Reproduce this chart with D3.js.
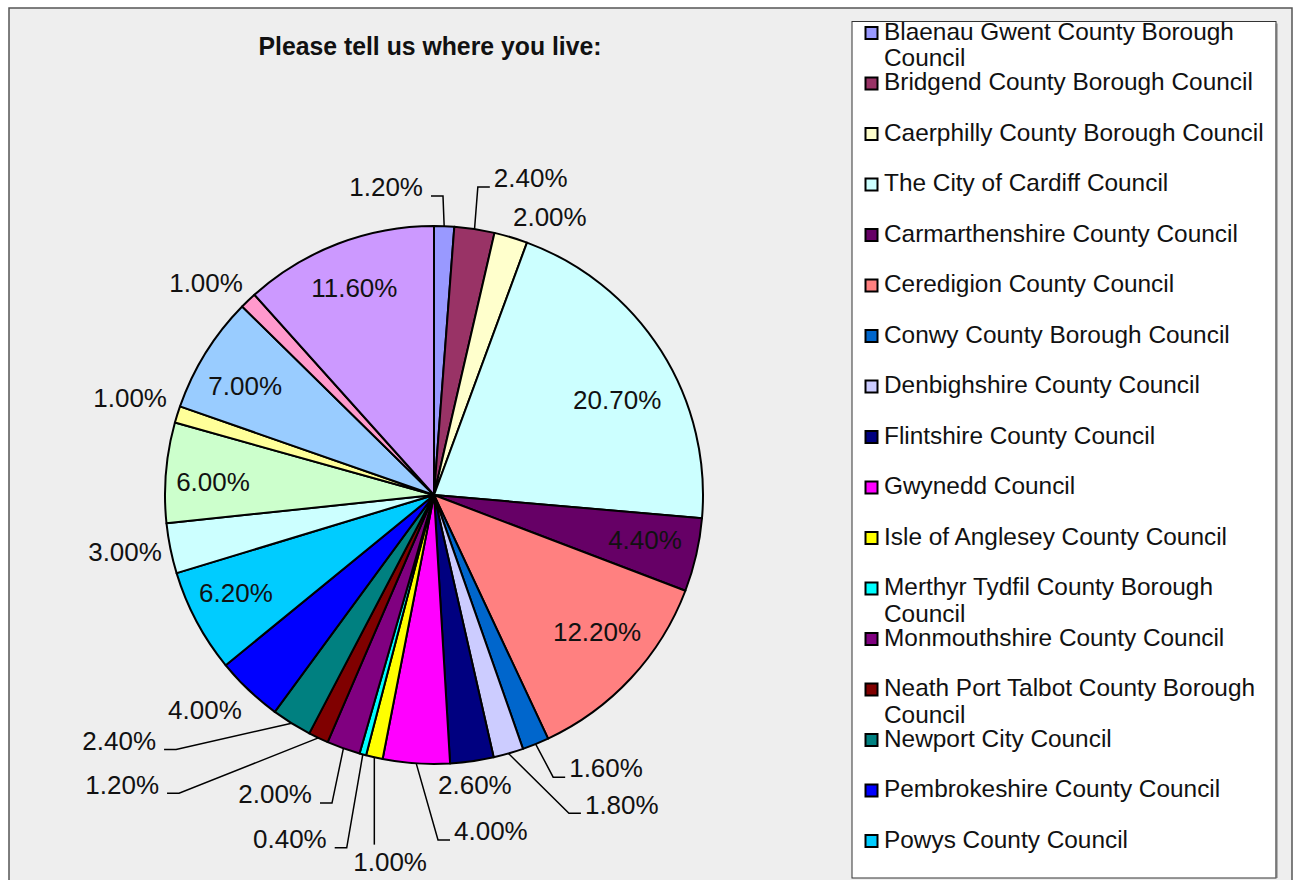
<!DOCTYPE html>
<html>
<head>
<meta charset="utf-8">
<script src="https://cdn.jsdelivr.net/npm/d3@7"></script>
<style>
  body { margin: 0; background: #fff; }
  text { font-family: "Liberation Sans", Arial, sans-serif; fill: #111; }
</style>
</head>
<body>
<div id="chart"></div>
<script>
'use strict';

const title = 'Please tell us where you live:';

const categories = [
  'Blaenau Gwent County Borough Council',
  'Bridgend County Borough Council',
  'Caerphilly County Borough Council',
  'The City of Cardiff Council',
  'Carmarthenshire County Council',
  'Ceredigion County Council',
  'Conwy County Borough Council',
  'Denbighshire County Council',
  'Flintshire County Council',
  'Gwynedd Council',
  'Isle of Anglesey County Council',
  'Merthyr Tydfil County Borough Council',
  'Monmouthshire County Council',
  'Neath Port Talbot County Borough Council',
  'Newport City Council',
  'Pembrokeshire County Council',
  'Powys County Council',
  'Rhondda Cynon Taf County Borough Council',
  'City and County of Swansea',
  'Torfaen County Borough Council',
  'Vale of Glamorgan Council',
  'Wrexham County Borough Council',
  'Outside Wales'
];

// percent of respondents
const shares = [1.2, 2.4, 2.0, 20.7, 4.4, 12.2, 1.6, 1.8, 2.6, 4.0, 1.0, 0.4,
  2.0, 1.2, 2.4, 4.0, 6.2, 3.0, 6.0, 1.0, 7.0, 1.0, 11.6];

const colours = ['#9999ff', '#993366', '#ffffcc', '#ccffff', '#660066', '#ff8080',
  '#0066cc', '#ccccff', '#000080', '#ff00ff', '#ffff00', '#00ffff', '#800080',
  '#800000', '#008080', '#0000ff', '#00ccff', '#ccffff', '#ccffcc', '#ffff99',
  '#99ccff', '#ff99cc', '#cc99ff'];

// label placement: distance from centre (x radius) and turn from slice middle (degrees)
const labelDist = [1.159, 1.232, 1.12, 0.767, 0.802, 0.791, 1.2, 1.345, 1.089, 1.267,
  1.374, 1.386, 1.259, 1.581, 1.484, 1.168, 0.821, 1.168, 0.823, 1.186, 0.811, 1.157, 0.825];
const labelTurn = [-11.0, 8.3, 6.0, 5.0, -0.9, -2.9, -10.0, -15.2, 0.1, -13.4,
  -6.0, 7.4, 8.3, 21.7, 20.1, 3.3, 1.8, 1.0, -1.3, 0.3, -1.8, -3.4, -0.1];
const labelLeader = [1, 1, 0, 0, 0, 0, 1, 1, 0, 1, 1, 1, 1, 1, 1, 0, 0, 0, 0, 0, 0, 0, 0];

const width = 1298, height = 880;
const cx = 434, cy = 495, radius = 269;
const fontSize = 26;

const svg = d3.select('#chart').append('svg')
  .attr('width', width)
  .attr('height', height);

// chart area
svg.append('rect')
  .attr('x', 9).attr('y', 8)
  .attr('width', 1283).attr('height', 900)
  .attr('fill', '#eeeeee')
  .attr('stroke', '#555')
  .attr('stroke-width', 1.5);

svg.append('text')
  .attr('x', 430).attr('y', 55)
  .attr('text-anchor', 'middle')
  .attr('font-size', 26)
  .attr('font-weight', 'bold')
  .attr('textLength', 343)
  .attr('lengthAdjust', 'spacingAndGlyphs')
  .text(title);

const pie = d3.pie().sort(null).value((d) => d);
const arcs = pie(shares);
const arc = d3.arc().innerRadius(0).outerRadius(radius);

const g = svg.append('g').attr('transform', 'translate(' + cx + ',' + cy + ')');

g.selectAll('path.slice').data(arcs).enter()
  .append('path')
  .attr('class', 'slice')
  .attr('d', arc)
  .attr('fill', (d, i) => colours[i])
  .attr('stroke', '#000')
  .attr('stroke-width', 2)
  .attr('stroke-linejoin', 'round');

function polar(r, a) {
  return [r * Math.sin(a), -r * Math.cos(a)];
}

const fmt = (v) => v.toFixed(2) + '%';

arcs.forEach((d, i) => {
  const mid = (d.startAngle + d.endAngle) / 2;
  const [lx, ly] = polar(labelDist[i] * radius, mid + labelTurn[i] * Math.PI / 180);

  const label = g.append('text')
    .attr('x', lx)
    .attr('y', ly + fontSize * 0.36)
    .attr('text-anchor', 'middle')
    .attr('font-size', fontSize)
    .text(fmt(d.data));

  if (!labelLeader[i]) return;

  const w = label.node().getComputedTextLength();
  const [px, py] = polar(radius, mid);
  let pts;
  if (px > lx - w / 2 && px < lx + w / 2) {
    // label straight below the slice: drop a line onto its top
    pts = [[px, py], [px, ly - fontSize * 0.36 - 8]];
  } else if (px < lx) {
    const left = lx - w / 2;
    pts = [[px, py], [left - 16, ly + 9], [left - 4, ly + 9]];
  } else {
    const right = lx + w / 2;
    pts = [[px, py], [right + 20, ly + 9], [right + 8, ly + 9]];
  }
  g.append('path')
    .attr('d', d3.line()(pts))
    .attr('fill', 'none')
    .attr('stroke', '#000')
    .attr('stroke-width', 1.5);
});

// legend
const legend = { x: 852, y: 21.5, w: 424, h: 856.5 };
const lg = svg.append('g');
lg.append('rect')
  .attr('x', legend.x).attr('y', legend.y)
  .attr('width', legend.w).attr('height', legend.h)
  .attr('fill', '#fff')
  .attr('stroke', '#333')
  .attr('stroke-width', 1);
lg.append('line')
  .attr('x1', legend.x + legend.w + 0.5).attr('x2', legend.x + legend.w + 0.5)
  .attr('y1', legend.y + 2).attr('y2', legend.y + legend.h)
  .attr('stroke', '#777')
  .attr('stroke-width', 2);

const itemStep = 50.5, firstBaseline = 39.5, maxText = 390;

categories.forEach((name, i) => {
  const base = firstBaseline + itemStep * i;
  if (base > legend.y + legend.h - 12) return;

  lg.append('rect')
    .attr('x', 865.5).attr('y', base - 12.5)
    .attr('width', 12).attr('height', 12)
    .attr('fill', colours[i])
    .attr('stroke', '#000')
    .attr('stroke-width', 2);

  const t = lg.append('text')
    .attr('x', 884).attr('y', base)
    .attr('font-size', 24.4);

  // wrap long names onto a second line
  const words = name.split(' ');
  let line = [];
  let tspan = t.append('tspan').attr('x', 884).attr('y', base);
  let lineNo = 0;
  words.forEach((word) => {
    line.push(word);
    tspan.text(line.join(' '));
    if (tspan.node().getComputedTextLength() > maxText && line.length > 1) {
      line.pop();
      tspan.text(line.join(' '));
      line = [word];
      lineNo++;
      tspan = t.append('tspan').attr('x', 884).attr('y', base + 26.5 * lineNo).text(word);
    }
  });
});
</script>
</body>
</html>
